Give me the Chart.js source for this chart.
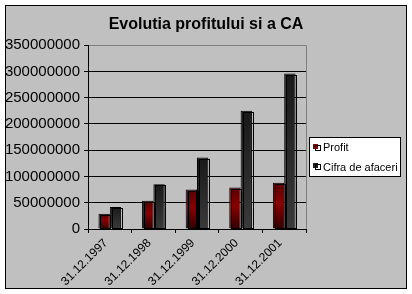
<!DOCTYPE html>
<html>
<head>
<meta charset="utf-8">
<script src="https://cdn.jsdelivr.net/npm/chart.js@4"></script>
<style>
  html, body { margin: 0; padding: 0; background: #fff; }
  canvas { display: block; }
</style>
</head>
<body>
<canvas id="profitChart" width="412" height="294"></canvas>
<script>
const years = ['31.12.1997', '31.12.1998', '31.12.1999', '31.12.2000', '31.12.2001'];
const profit = [29000000, 54000000, 75000000, 79000000, 88000000];
const cifraAfaceri = [42000000, 85000000, 136000000, 225000000, 296000000];
const yTicks = [0, 50000000, 100000000, 150000000, 200000000, 250000000, 300000000, 350000000];

const FONT = "'Liberation Sans', Arial, sans-serif";

// vertical gradient per bar, from its top to the axis
function barGradient(stops, fallback) {
  return function (context) {
    if (context.type !== 'data') return fallback;
    const chart = context.chart;
    if (!chart.chartArea) return fallback;
    const y = chart.scales.y;
    const top = y.getPixelForValue(context.raw);
    const base = y.getPixelForValue(0);
    if (!(base > top)) return fallback;
    const g = chart.ctx.createLinearGradient(0, top, 0, base);
    stops.forEach(s => g.addColorStop(s[0], s[1]));
    return g;
  };
}

const frame = {
  id: 'frame',
  beforeDraw(chart) {
    const { ctx, width, height } = chart;
    ctx.save();
    ctx.fillStyle = '#fff';
    ctx.fillRect(0, 0, width, height);
    ctx.fillStyle = '#c0c0c0';
    ctx.fillRect(5, 5, width - 10, height - 10);
    ctx.strokeStyle = '#000';
    ctx.lineWidth = 1;
    ctx.strokeRect(5.5, 5.5, width - 11, height - 11);
    ctx.restore();
  },
  beforeDatasetsDraw(chart) {
    const { ctx, chartArea } = chart;
    ctx.save();
    ctx.strokeStyle = '#808080';
    ctx.lineWidth = 1;
    ctx.beginPath();
    ctx.moveTo(Math.round(chartArea.right) + 0.5, chartArea.top);
    ctx.lineTo(Math.round(chartArea.right) + 0.5, chartArea.bottom);
    ctx.stroke();
    ctx.restore();
  }
};

// thin back outline behind each column (the 3D depth look)
const depthOutline = {
  id: 'depthOutline',
  afterDatasetsDraw(chart) {
    const ctx = chart.ctx;
    ctx.save();
    ctx.strokeStyle = '#000';
    ctx.lineWidth = 1;
    chart.data.datasets.forEach((ds, i) => {
      chart.getDatasetMeta(i).data.forEach(bar => {
        const w = Math.round(bar.width);
        const left = Math.round(bar.x - bar.width / 2) + 2;
        const top = Math.round(bar.y) + 1;
        ctx.strokeRect(left + 0.5, top + 0.5, w - 1, Math.round(bar.base) - top - 1);
      });
    });
    ctx.restore();
  }
};

const boxLegend = {
  id: 'boxLegend',
  afterDraw(chart) {
    const { ctx, chartArea } = chart;
    const x = Math.round(chartArea.right) + 3;
    const y = 137;
    const w = 92, h = 40;
    ctx.save();
    ctx.fillStyle = '#fff';
    ctx.fillRect(x, y, w, h);
    ctx.strokeStyle = '#000';
    ctx.lineWidth = 1;
    ctx.strokeRect(x + 0.5, y + 0.5, w - 1, h - 1);
    ctx.font = '11px ' + FONT;
    ctx.textBaseline = 'middle';
    ctx.textAlign = 'left';
    chart.data.datasets.forEach((ds, i) => {
      const cy = y + 10.5 + i * 19.5;
      const mx = x + 4, my = Math.round(cy) - 4;
      ctx.fillStyle = ds.legendColor;
      ctx.fillRect(mx, my, 5, 5);
      ctx.strokeStyle = '#000';
      ctx.strokeRect(mx + 2.5, my + 1.5, 5, 5);
      ctx.fillStyle = '#000';
      ctx.fillText(ds.label, x + 14, cy + 0.5);
    });
    ctx.restore();
  }
};

new Chart(document.getElementById('profitChart'), {
  type: 'bar',
  data: {
    labels: years,
    datasets: [{
      label: 'Profit',
      data: profit,
      legendColor: '#800000',
      backgroundColor: barGradient([[0, '#550000'], [0.45, '#880000'], [1, '#2e0000']], '#800000'),
      borderColor: '#000',
      borderWidth: 1,
      categoryPercentage: 0.52,
      barPercentage: 1.0
    }, {
      label: 'Cifra de afaceri',
      data: cifraAfaceri,
      legendColor: '#222222',
      backgroundColor: barGradient([[0, '#191919'], [1, '#3a3a3a']], '#262626'),
      borderColor: '#000',
      borderWidth: 1,
      categoryPercentage: 0.52,
      barPercentage: 1.0
    }]
  },
  options: {
    responsive: false,
    animation: false,
    events: [],
    layout: { padding: { top: 6, left: 5, right: 5, bottom: 6 } },
    plugins: {
      legend: { display: false },
      tooltip: { enabled: false },
      title: {
        display: true,
        text: 'Evolutia profitului si a CA',
        color: '#000',
        font: { family: FONT, size: 16, weight: 'bold' },
        padding: { top: 9, bottom: 11 }
      }
    },
    scales: {
      x: {
        grid: { display: true, drawOnChartArea: false, drawTicks: true, tickLength: 4, color: '#000', offset: true },
        border: { display: true, color: '#000' },
        ticks: {
          color: '#000',
          font: { family: FONT, size: 12 },
          minRotation: 45,
          maxRotation: 45,
          padding: 3,
          labelOffset: -4,
          autoSkip: false
        },
        afterFit: s => { s.height = 59; }
      },
      y: {
        min: 0,
        max: 350000000,
        afterBuildTicks: s => { s.ticks = yTicks.map(v => ({ value: v })); },
        grid: {
          color: c => (c.tick && c.tick.value === 350000000 ? '#808080' : '#000'),
          tickColor: '#000',
          tickLength: 4
        },
        border: { display: true, color: '#000' },
        ticks: {
          color: '#000',
          font: { family: FONT, size: 15 },
          padding: 4,
          callback: v => String(v)
        },
        afterFit: s => { s.width = 83; }
      },
      pad: {
        type: 'linear',
        position: 'right',
        display: true,
        grid: { display: false, drawTicks: false },
        border: { display: false },
        ticks: { display: false },
        afterFit: s => { s.width = 101; }
      }
    }
  },
  plugins: [frame, depthOutline, boxLegend]
});
</script>
</body>
</html>
